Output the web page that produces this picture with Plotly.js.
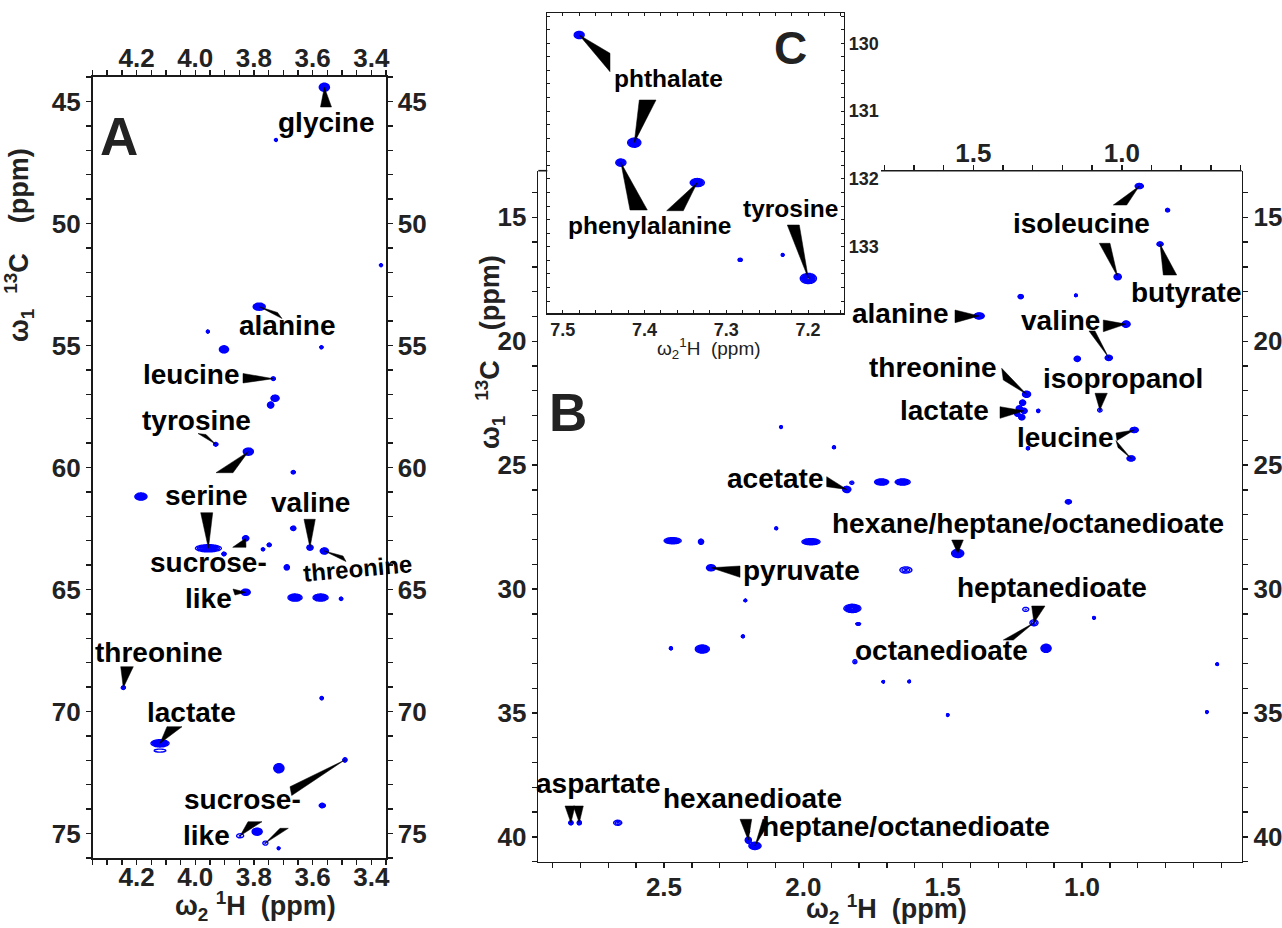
<!DOCTYPE html>
<html><head><meta charset="utf-8">
<script src="https://cdn.plot.ly/plotly-3.0.1.min.js"></script>
<style>html,body{margin:0;padding:0;background:#fff;}#chart{width:1282px;height:928px;}</style>
</head><body><div id="chart"></div>
<script>
// ================= DATA =================
// Panel A: 1H / 13C shifts (ppm) and relative peak intensity
const peakA_H = [3.560,3.725,3.367,3.782,3.957,3.902,3.570,3.734,3.728,3.743,3.930,3.819,3.666,4.185,3.666,3.955,3.828,3.902,3.769,3.748,3.609,3.560,3.688,3.828,3.660,3.573,3.503,4.245,3.569,4.120,4.120,3.490,3.715,3.567,3.847,3.789,3.761,3.716];
const peakA_C = [44.42,46.58,51.71,53.41,54.43,55.16,55.07,56.36,57.16,57.44,59.05,59.35,60.19,61.19,62.49,63.31,62.90,63.54,63.35,63.17,63.28,63.42,64.09,65.11,65.33,65.33,65.38,69.02,69.45,71.30,71.60,71.98,72.32,73.85,75.09,74.92,75.39,75.60];
const peakA_I = [1,1,1,1,1, 1,1,1,1,1, 1,1,1,1,1, 1,1,1,1,1, 1,1,1,1,1, 1,1,1,1,1, 0.15,1,1,1,0.2, 1,0.2,1];

// Panel B
const peakB_H = [0.7945,0.693,0.720,0.872,1.220,1.022,1.369,0.842,1.017,0.904,1.199,1.213,1.225,1.208,1.216,1.232,1.157,0.936,0.8125,0.824,1.194,1.890,1.844,1.826,1.719,1.6435,2.097,2.469,2.367,1.9725,2.331,1.632,2.208,1.824,1.803,2.217,2.475,2.3625,1.815,1.620,1.446,1.049,1.202,1.1724,0.957,1.129,0.515,0.552,1.713,1.482,2.834,2.804,2.666,2.1975,2.1735,2.080,2.1975];
const peakB_C = [13.74,14.71,16.08,17.40,18.20,18.15,18.98,19.31,20.71,20.67,22.14,22.48,22.71,22.81,23.07,22.94,22.81,22.78,23.58,24.73,24.32,24.28,25.98,25.71,25.68,25.68,27.55,28.05,28.09,28.09,29.14,29.23,30.46,30.78,31.41,31.91,32.39,32.42,32.93,33.73,28.56,26.48,30.82,31.36,31.16,32.39,33.03,34.96,33.74,35.08,39.43,39.43,39.43,40.13,40.36,23.46,39.79];
const peakB_I = [1,1,1,1,1, 1,1,1,1,1, 1,1,1,1,1, 1,1,0.22,1,1, 1,1,1,0.22,1, 1,1,1,1,1, 1,0.3,1,1,1, 1,1,1,0.22,1, 1,1,0.2,0.3,1, 1,1,1,1,1, 1,1,0.3,1,1, 1,0.5];

// Panel C (aromatic inset)
const peakC_H = [7.480,7.4126,7.429,7.3355,7.283,7.231,7.1996];
const peakC_C = [129.878,131.465,131.759,132.054,133.192,133.118,133.467];
const peakC_I = [0.7,1,0.7,0.85,1,1,1];

// Tick labels
const tickLabA_x = [4.2,4.0,3.8,3.6,3.4];
const tickLabA_y = [45,50,55,60,65,70,75];
const tickLabB_xBottom = [2.5,2.0,1.5,1.0];
const tickLabB_xTop = [1.5,1.0];
const tickLabB_y = [15,20,25,30,35,40];
const tickLabC_x = [7.5,7.4,7.3,7.2];
const tickLabC_y = [130,131,132,133];

// ================= STYLE / GEOMETRY =================
// contour blob half-sizes in pixels (x, y), same order as the peaks
const blobA = [[5,4],[1.3,1.3],[1.3,1.3],[6,3.5],[1.3,1.3],[4.5,3.5],[1.5,1.3],[2,1.6],[4,3],[3,3],[2,1.6],[5,3.5],[2,1.4],[6,3.5],[2.5,2],[13,3.5],[3,2.5],[2,1.6],[1.5,1.3],[2,1.6],[3,2.5],[4,3],[2.5,2.5],[4.5,3],[7,3.5],[7.5,3.5],[1.5,1.5],[2,1.6],[1.5,1.5],[9,3.5],[6,1.5],[2,2],[5,4.5],[3,2],[3.5,2],[5,3.5],[2.5,2],[1.2,1.2]];
const blobB = [[4,2.5],[2,1.6],[3,2],[3.5,3],[2.5,2],[1.2,1.2],[5,3],[4,3],[3,2.5],[3.5,2.5],
 [4,3],[3,2.5],[3,2.5],[3,2.5],[3,2.5],[2.5,2],[1.5,1.5],[2.2,1.8],[4,2.5],[4,2.5],
 [1.5,1.5],[1.5,1.3],[4,3],[2,1.6],[7,3],[7.5,3],[1.3,1.3],[8.5,3],[2.5,2.5],[9,3],
 [4.5,3],[6,3],[1.3,1.2],[8.5,4],[2.5,1],[1.5,1.3],[1.5,1.5],[7,4],[2,2],[1.2,1.2],
 [6,4],[3,2],[3,2],[4,3],[1.3,1.3],[5,4],[1.3,1],[1.2,1.2],[1.2,1.2],[1.2,1.2],
 [2,2],[2,2],[4,2.5],[3,3],[6,3.5],[1.2,1.2],[1.2,1.2]];
const blobC = [[5,3.5],[6.5,4.5],[5,3.5],[7,4],[2,1.5],[1.2,1.2],[8,5]];

const W = 1282, H = 928;
const FONT = 'Liberation Sans, Arial, Helvetica, sans-serif';
const LINE = '#1a1a1a';
const BLUE = '#0000ff';
const GEO = {
  A: {l:92.5, r:386, t:77, b:858, xr:[4.35,3.35], yr:[76,44]},
  B: {l:538.3, r:1241.7, t:170.7, b:861.7, xr:[2.951,0.427], yr:[41.0,13.12]},
  C: {l:547.3, r:844, t:12.7, b:313.3, xr:[7.519,7.156], yr:[133.98,129.55]}
};
const B_TOP_RANGE = [2.966,0.596];
const fx = px => px / W, fy = py => 1 - py / H;
function toPx(p, h, c){
  const g = GEO[p];
  return [g.l + (h - g.xr[0]) / (g.xr[1] - g.xr[0]) * (g.r - g.l),
          g.b - (c - g.yr[0]) / (g.yr[1] - g.yr[0]) * (g.b - g.t)];
}

// ================= contour grids (sum of 2-D Gaussian peaks) =================
const LEVEL0 = 0.1;
function buildGrid(p, Hs, Cs, Is, blobs){
  const g = GEO[p];
  const xlo = Math.min(...g.xr), xhi = Math.max(...g.xr);
  const ylo = Math.min(...g.yr), yhi = Math.max(...g.yr);
  const nx = Math.round(g.r - g.l) + 1, ny = Math.round(g.b - g.t) + 1;
  const dx = (xhi - xlo) / (nx - 1), dy = (yhi - ylo) / (ny - 1);
  const cpx = (g.r - g.l) / (nx - 1), cpy = (g.b - g.t) / (ny - 1);
  const xs = new Array(nx), ys = new Array(ny);
  for (let i = 0; i < nx; i++) xs[i] = xlo + i * dx;
  for (let j = 0; j < ny; j++) ys[j] = ylo + j * dy;
  const z = [];
  for (let j = 0; j < ny; j++) z.push(new Array(nx).fill(0));
  for (let k = 0; k < Hs.length; k++){
    const amp = Is[k], kf = Math.sqrt(2 * Math.log(amp / LEVEL0));
    const sx = blobs[k][0] / kf / cpx, sy = blobs[k][1] / kf / cpy;
    const ci = (Hs[k] - xlo) / dx, cj = (Cs[k] - ylo) / dy;
    const wi = Math.ceil(4 * sx) + 2, wj = Math.ceil(4 * sy) + 2;
    const j0 = Math.max(0, Math.floor(cj - wj)), j1 = Math.min(ny - 1, Math.ceil(cj + wj));
    const i0 = Math.max(0, Math.floor(ci - wi)), i1 = Math.min(nx - 1, Math.ceil(ci + wi));
    for (let j = j0; j <= j1; j++){
      const dj = (j - cj) / sy, row = z[j];
      for (let i = i0; i <= i1; i++){
        const di = (i - ci) / sx;
        row[i] += amp * Math.exp(-0.5 * (di * di + dj * dj));
      }
    }
  }
  return {xs, ys, z};
}
function contourTrace(grid, xa, ya){
  return {type:'contour', x:grid.xs, y:grid.ys, z:grid.z, xaxis:xa, yaxis:ya,
    autocontour:false, contours:{coloring:'lines', start:LEVEL0, end:2.0, size:0.09, showlabels:false},
    line:{width:1.4, smoothing:1}, colorscale:[[0,BLUE],[1,BLUE]], showscale:false,
    hoverinfo:'skip', connectgaps:false};
}
const gA = buildGrid('A', peakA_H, peakA_C, peakA_I, blobA);
const gB = buildGrid('B', peakB_H, peakB_C, peakB_I, blobB);
const gC = buildGrid('C', peakC_H, peakC_C, peakC_I, blobC);

const traces = [
  contourTrace(gA, 'x', 'y'),
  contourTrace(gB, 'x3', 'y3'),
  contourTrace(gC, 'x5', 'y5'),
  {type:'scatter', x:[], y:[], xaxis:'x2', yaxis:'y2', hoverinfo:'skip', showlegend:false},
  {type:'scatter', x:[], y:[], xaxis:'x4', yaxis:'y4', hoverinfo:'skip', showlegend:false}
];

// ================= axes =================
function tickSet(lo, hi, step, labels, dec){
  const vals = [], text = [];
  const n0 = Math.ceil(lo / step - 1e-6), n1 = Math.floor(hi / step + 1e-6);
  for (let n = n0; n <= n1; n++){
    const v = +(n * step).toFixed(6);
    vals.push(v);
    const hit = labels.find(L => Math.abs(L - v) < 1e-6);
    text.push(hit !== undefined ? hit.toFixed(dec) : '');
  }
  return {tickmode:'array', tickvals:vals, ticktext:text};
}
function ax(extra){
  return Object.assign({
    showgrid:false, zeroline:false, showline:true, linecolor:LINE, linewidth:1.6,
    ticks:'outside', ticklen:5, tickwidth:1.4, tickcolor:LINE, tickangle:0,
    tickfont:{family:FONT, size:26, color:'#222', weight:'bold'},
    fixedrange:true
  }, extra);
}
const A = GEO.A, B = GEO.B, C = GEO.C;
const cFont = {family:FONT, size:18, color:'#222', weight:'bold'};
const layout = {
  width:W, height:H, margin:{l:0, r:0, t:0, b:0},
  paper_bgcolor:'#ffffff', plot_bgcolor:'rgba(0,0,0,0)', showlegend:false,
  font:{family:FONT},
  // Panel A
  xaxis: ax(Object.assign({domain:[fx(A.l), fx(A.r)], range:A.xr, anchor:'y', side:'bottom', ticklabelstandoff:-10}, tickSet(3.35, 4.35, 0.05, tickLabA_x, 1))),
  xaxis2: ax(Object.assign({range:A.xr, anchor:'y', overlaying:'x', side:'top', ticklabelstandoff:-7}, tickSet(3.35, 4.35, 0.05, tickLabA_x, 1))),
  yaxis: ax(Object.assign({domain:[fy(A.b), fy(A.t)], range:A.yr, anchor:'x', side:'left'}, tickSet(44, 76, 1, tickLabA_y, 0))),
  yaxis2: ax(Object.assign({range:A.yr, anchor:'x', overlaying:'y', side:'right'}, tickSet(44, 76, 1, tickLabA_y, 0))),
  // Panel B
  xaxis3: ax(Object.assign({domain:[fx(B.l), fx(B.r)], range:B.xr, anchor:'y3', side:'bottom', ticklabelstandoff:-4}, tickSet(0.427, 2.951, 0.1, tickLabB_xBottom, 1))),
  xaxis4: ax(Object.assign({range:B_TOP_RANGE, anchor:'y3', overlaying:'x3', side:'top', showline:false, ticklabelstandoff:-8}, tickSet(0.6, 1.8, 0.1, tickLabB_xTop, 1))),
  yaxis3: ax(Object.assign({domain:[fy(B.b), fy(B.t)], range:B.yr, anchor:'x3', side:'left'}, tickSet(13.12, 41, 1, tickLabB_y, 0))),
  yaxis4: ax(Object.assign({range:B.yr, anchor:'x3', overlaying:'y3', side:'right'}, tickSet(13.12, 41, 1, tickLabB_y, 0))),
  // Panel C
  xaxis5: ax(Object.assign({domain:[fx(C.l), fx(C.r)], range:C.xr, anchor:'y5', side:'bottom', mirror:'ticks', ticks:'inside', ticklen:3, tickwidth:1, linewidth:1.2, tickfont:cFont}, tickSet(7.156, 7.519, 0.02, tickLabC_x, 1))),
  yaxis5: ax(Object.assign({domain:[fy(C.b), fy(C.t)], range:C.yr, anchor:'x5', side:'right', mirror:'ticks', ticks:'inside', ticklen:3, tickwidth:1, linewidth:1.2, tickfont:cFont}, tickSet(129.55, 133.98, 0.2, tickLabC_y, 0))),
  shapes:[], annotations:[]
};

// B top frame segments that are not covered by inset C
layout.shapes.push({type:'line', xref:'paper', yref:'paper', x0:fx(881), x1:fx(B.r), y0:fy(B.t), y1:fy(B.t), line:{color:LINE, width:1.6}});
layout.shapes.push({type:'line', xref:'paper', yref:'paper', x0:fx(B.l), x1:fx(C.l), y0:fy(B.t), y1:fy(B.t), line:{color:LINE, width:1.6}});

// ================= labels with wedge pointers =================
const PEAKS = {A:[peakA_H, peakA_C], B:[peakB_H, peakB_C], C:[peakC_H, peakC_C]};
const callouts = [
  {p:'A', t:'glycine', x:326, y:122, w:[[0,320.5,107,331.5,107]]},
  {p:'A', t:'alanine', x:287, y:325, w:[[3,277.5,312.5,282,318.5]]},
  {p:'A', t:'leucine', x:191, y:375, w:[[7,243,373.5,243,383]]},
  {p:'A', t:'tyrosine', x:196, y:420, w:[[10,198,433.5,206,434.5]]},
  {p:'A', t:'serine', x:206, y:495, w:[[15,200.7,512.7,212.7,512.7],[11,216,472.7,233,472.7]]},
  {p:'A', t:'valine', x:310, y:502, w:[[20,304,519.3,315.3,519.3]]},
  {p:'A', t:'threonine', x:357, y:568, s:24, a:-5, w:[[21,343,556,346,561.5]]},
  {p:'A', t:'sucrose-<br>like', x:209, y:580.5, w:[[16,232.7,547.3,246,547.3],[23,233,589,235,595]]},
  {p:'A', t:'threonine', x:159, y:652, w:[[27,120.7,666.7,133.3,666.7]]},
  {p:'A', t:'lactate', x:191, y:712, w:[[29,167,726.7,182,726.7]]},
  {p:'A', t:'sucrose-', x:242, y:799, w:[[31,290,786.7,291.7,795.5]]},
  {p:'A', t:'like', x:206, y:835, w:[[34,248,821.7,262,821.7],[36,280,828.3,288.3,828.3]]},
  {p:'B', t:'isoleucine', x:1081.7, y:223, w:[[0,1113.3,205,1126.7,205],[3,1099.3,243.3,1110,243.3]]},
  {p:'B', t:'butyrate', x:1185.5, y:292, w:[[2,1163.3,275,1176.7,275]]},
  {p:'B', t:'alanine', x:900, y:313, w:[[6,955,310,955,322.7]]},
  {p:'B', t:'valine', x:1060.5, y:320, w:[[7,1103.3,320,1103.3,331.7],[9,1089,331,1095,331]]},
  {p:'B', t:'threonine', x:933, y:367, w:[[10,1001.7,368.3,1003.3,380]]},
  {p:'B', t:'isopropanol', x:1123.3, y:378, w:[[17,1095,393.3,1107.3,393.3]]},
  {p:'B', t:'lactate', x:944, y:410, w:[[13,1000,406.7,1000,418.3]]},
  {p:'B', t:'leucine', x:1065, y:437, w:[[18,1116,433,1117,440.5],[19,1116,440.5,1118,447.5]]},
  {p:'B', t:'acetate', x:775, y:478, w:[[22,826.7,476.7,826.7,486.7]]},
  {p:'B', t:'hexane/heptane/octanedioate', x:1027.5, y:523, w:[[40,951.7,540,963.3,540]]},
  {p:'B', t:'pyruvate', x:801.3, y:570, w:[[30,740,566,740,577.3]]},
  {p:'B', t:'heptanedioate', x:1051.7, y:587, w:[[43,1031.7,606,1045,606]]},
  {p:'B', t:'octanedioate', x:941.7, y:650, w:[[43,1003.3,640,1013.3,640]]},
  {p:'B', t:'aspartate', x:598, y:783, w:[[50,565,806,575,806],[51,573.3,806,583.3,806]]},
  {p:'B', t:'hexanedioate', x:752.7, y:798, w:[[53,740,819.3,751.7,819.3]]},
  {p:'B', t:'heptane/octanedioate', x:905.8, y:826, w:[[54,763,819,769,823]]},
  {p:'C', t:'phthalate', x:668, y:78.5, s:24.5, w:[[0,610,53.3,610,71.7],[1,639.3,100,656,100]]},
  {p:'C', t:'phenylalanine', x:650, y:225, s:24.5, w:[[2,630,210,647.3,210],[3,666.7,210.7,683.3,210.7]]},
  {p:'C', t:'tyrosine', x:791, y:208, s:24.5, w:[[6,787.3,225,799.3,225]]}
];
callouts.forEach(co => {
  layout.annotations.push({xref:'paper', yref:'paper', x:fx(co.x), y:fy(co.y), text:co.t, showarrow:false,
    xanchor:'center', yanchor:'middle', textangle:co.a || 0,
    font:{family:FONT, size:co.s || 28, color:'#000', weight:'bold'}});
  co.w.forEach(w => {
    const [idx, b1x, b1y, b2x, b2y] = w;
    const pk = PEAKS[co.p];
    const [px, py] = toPx(co.p, pk[0][idx], pk[1][idx]);
    layout.shapes.push({type:'path', xref:'paper', yref:'paper', layer:'above',
      path:`M ${fx(px)} ${fy(py)} L ${fx(b1x)} ${fy(b1y)} L ${fx(b2x)} ${fy(b2y)} Z`,
      fillcolor:'#000', line:{color:'#000', width:0.5}});
  });
});

// panel letters
[['A',118.5,136,53],['B',568,412,53],['C',790,48.3,46]].forEach(([t,x,y,s]) => {
  layout.annotations.push({xref:'paper', yref:'paper', x:fx(x), y:fy(y), text:t, showarrow:false,
    xanchor:'center', yanchor:'middle', font:{family:FONT, size:s, color:'#222', weight:'bold'}});
});

// axis titles
const NB = '\u00a0';
const titleH = 'ω<sub>2</sub> <sup>1</sup>H' + NB + NB + '(ppm)';
const titleC = 'ω<sub>1</sub>' + NB + NB + '<sup>13</sup>C' + NB + NB + NB + NB + '(ppm)';
const titleBold = {family:FONT, size:27, color:'#222', weight:'bold'};
[[titleH,255.8,906,0,titleBold],[titleC,19,245,-90,titleBold],[titleH,886,909,0,titleBold],[titleC,490,352,-90,titleBold],
 ['ω<sub>2</sub><sup>1</sup>H' + NB + NB + '(ppm)',709,348,0,{family:FONT, size:19, color:'#222', weight:'normal'}]]
.forEach(([t,x,y,a,f]) => {
  layout.annotations.push({xref:'paper', yref:'paper', x:fx(x), y:fy(y), text:t, showarrow:false,
    xanchor:'center', yanchor:'middle', textangle:a, font:f});
});

Plotly.newPlot('chart', traces, layout, {staticPlot:true, displayModeBar:false});
</script>
</body></html>
